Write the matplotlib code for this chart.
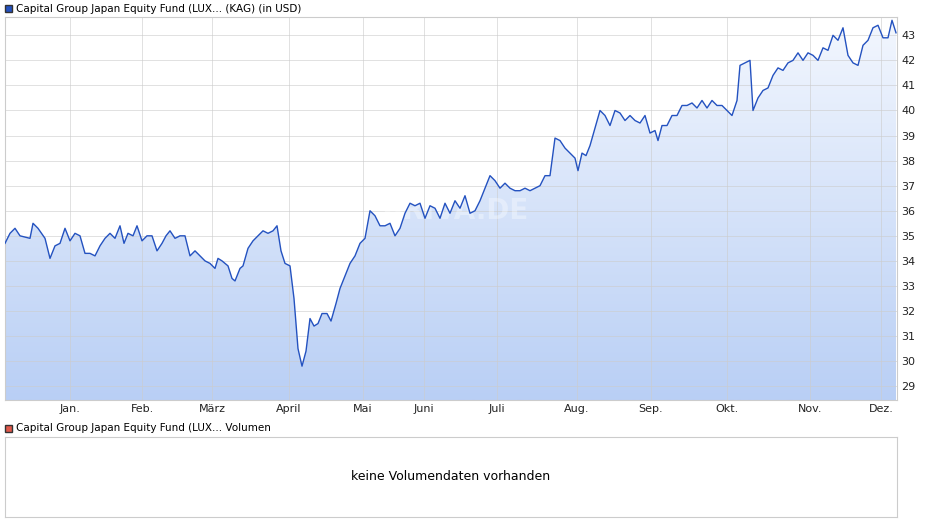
import matplotlib
matplotlib.use("Agg")
import matplotlib.pyplot as plt
import numpy as np
from matplotlib.patches import Rectangle
from matplotlib.colors import LinearSegmentedColormap

day = [5,10,15,20,30,33,38,45,50,55,60,65,70,75,80,85,90,95,100,105,110,115,120,124,128,133,137,142,147,152,157,162,166,170,175,180,185,190,195,200,205,210,215,218,222,228,232,235,240,243,248,253,258,263,268,273,277,281,285,290,294,298,302,306,310,314,318,322,327,331,336,340,346,350,355,360,365,370,375,380,385,390,395,400,405,410,415,420,425,430,435,440,445,450,455,460,465,470,475,480,485,490,495,500,505,510,515,520,525,530,535,540,545,550,555,560,565,570,575,578,582,586,590,595,600,605,610,615,620,625,630,635,640,645,650,655,658,662,667,672,677,682,687,692,697,702,707,712,717,722,727,732,737,740,745,750,753,758,763,768,773,778,783,788,793,798,803,808,813,818,823,828,833,838,843,848,853,858,863,868,873,878,883,888,892,896]
price = [34.7,35.1,35.3,35.0,34.9,35.5,35.3,34.9,34.1,34.6,34.7,35.3,34.8,35.1,35.0,34.3,34.3,34.2,34.6,34.9,35.1,34.9,35.4,34.7,35.1,35.0,35.4,34.8,35.0,35.0,34.4,34.7,35.0,35.2,34.9,35.0,35.0,34.2,34.4,34.2,34.0,33.9,33.7,34.1,34.0,33.8,33.3,33.2,33.7,33.8,34.5,34.8,35.0,35.2,35.1,35.2,35.4,34.4,33.9,33.8,32.5,30.5,29.8,30.4,31.7,31.4,31.5,31.9,31.9,31.6,32.3,32.9,33.5,33.9,34.2,34.7,34.9,36.0,35.8,35.4,35.4,35.5,35.0,35.3,35.9,36.3,36.2,36.3,35.7,36.2,36.1,35.7,36.3,35.9,36.4,36.1,36.6,35.9,36.0,36.4,36.9,37.4,37.2,36.9,37.1,36.9,36.8,36.8,36.9,36.8,36.9,37.0,37.4,37.4,38.9,38.8,38.5,38.3,38.1,37.6,38.3,38.2,38.6,39.3,40.0,39.8,39.4,40.0,39.9,39.6,39.8,39.6,39.5,39.8,39.1,39.2,38.8,39.4,39.4,39.8,39.8,40.2,40.2,40.3,40.1,40.4,40.1,40.4,40.2,40.2,40.0,39.8,40.4,41.8,41.9,42.0,40.0,40.5,40.8,40.9,41.4,41.7,41.6,41.9,42.0,42.3,42.0,42.3,42.2,42.0,42.5,42.4,43.0,42.8,43.3,42.2,41.9,41.8,42.6,42.8,43.3,43.4,42.9,42.9,43.6,43.1]
month_pos = [70,142,212,289,363,424,497,577,651,727,810,881]
month_lab = ["Jan.","Feb.","März","April","Mai","Juni","Juli","Aug.","Sep.","Okt.","Nov.","Dez."]
yticks = list(range(29,44))

W,H=940,526
fig = plt.figure(figsize=(W/100,H/100),dpi=100)
ax = fig.add_axes([5/W,(H-400)/H,892/W,383/H])
ylo,yhi = 28.45,43.73
ax.set_xlim(5,897); ax.set_ylim(ylo,yhi)
grad = np.linspace(0,1,256).reshape(-1,1)
cm = LinearSegmentedColormap.from_list("g",["#b9cff5","#f3f7fe"])
im = ax.imshow(grad,extent=[5,897,ylo,yhi],origin="lower",aspect="auto",cmap=cm,zorder=1)
poly = ax.fill_between(day,price,ylo,color="none")
im.set_clip_path(poly.get_paths()[0], transform=ax.transData)
ax.plot(day,price,color="#2452c0",lw=1,zorder=4)
ax.set_yticks(yticks)
ax.yaxis.tick_right()
ax.set_xticks(month_pos); ax.set_xticklabels(month_lab)
ax.tick_params(labelsize=8,length=0,colors="#222222",pad=3)
ax.set_axisbelow(False)
ax.grid(True,color="#cccccc",lw=0.7,alpha=0.6,zorder=2)
for s in ax.spines.values(): s.set_color("#cccccc")
ax.text(455,36.0,"ARIVA.DE",fontsize=20,color="white",alpha=0.35,ha="center",va="center",fontweight="bold",zorder=3)

fig.patches.append(Rectangle((5/W,(H-12)/H),7/W,7/H,transform=fig.transFigure,fc="#2452c0",ec="#333"))
fig.text(16/W,(H-9)/H,"Capital Group Japan Equity Fund (LUX... (KAG) (in USD)",fontsize=7.5,va="center")
fig.patches.append(Rectangle((5/W,(H-432)/H),7/W,7/H,transform=fig.transFigure,fc="#e0584a",ec="#333"))
fig.text(16/W,(H-428)/H,"Capital Group Japan Equity Fund (LUX... Volumen",fontsize=7.5,va="center")

ax2 = fig.add_axes([5/W,(H-517)/H,892/W,80/H])
ax2.set_xticks([]); ax2.set_yticks([])
for s in ax2.spines.values(): s.set_color("#cccccc")
ax2.text(0.5,0.5,"keine Volumendaten vorhanden",ha="center",va="center",fontsize=9,transform=ax2.transAxes)
fig.savefig("out.png",dpi=100)
